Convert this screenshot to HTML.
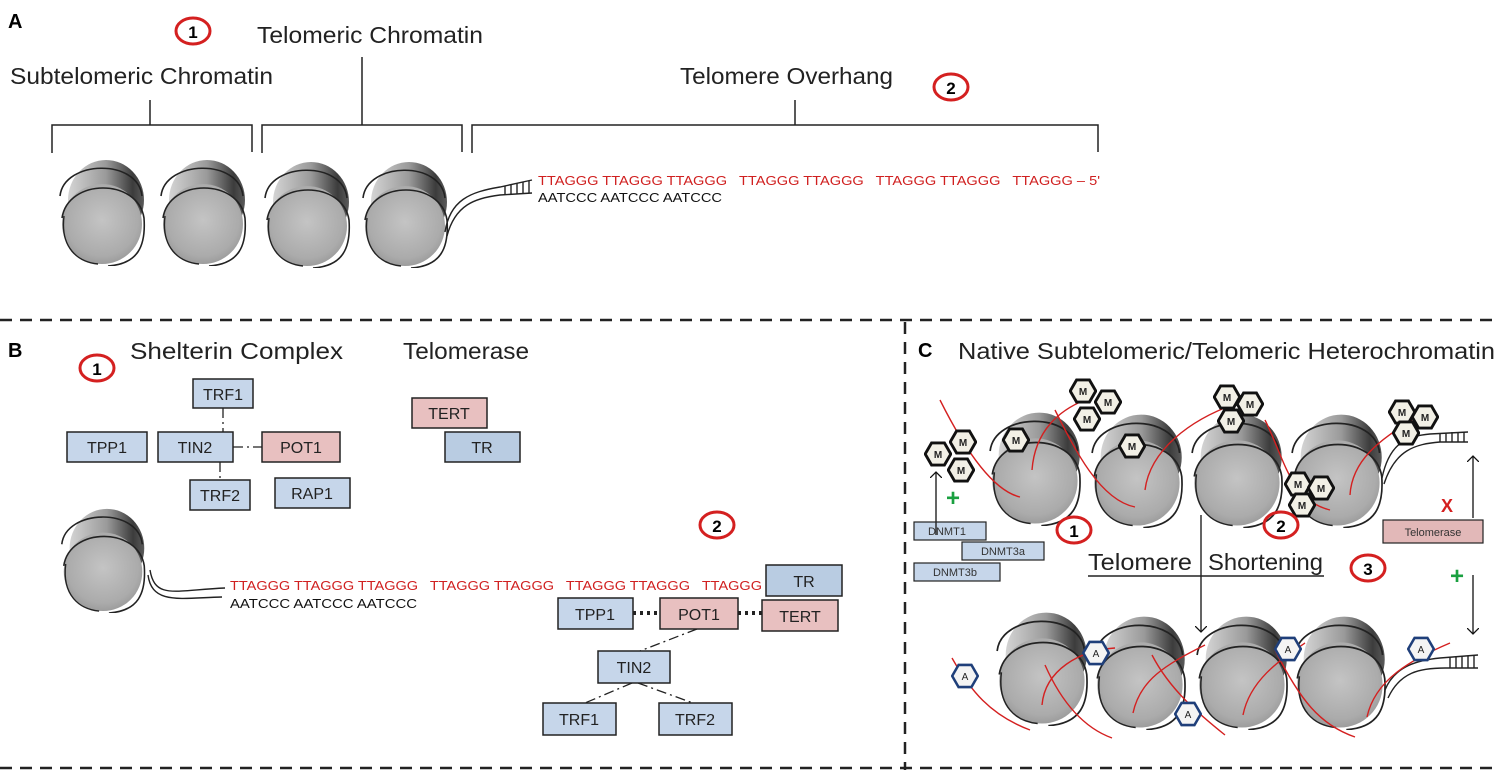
<!DOCTYPE html>
<html><head><meta charset="utf-8"><style>
html,body{margin:0;padding:0;background:#fff;}
svg{display:block;font-family:"Liberation Sans",Arial,sans-serif;}
</style></head><body>
<svg width="1500" height="779" viewBox="0 0 1500 779" xmlns="http://www.w3.org/2000/svg">
<defs>
<linearGradient id="gb" x1="0" y1="0" x2="1" y2="0">
<stop offset="0" stop-color="#d4d4d4"/><stop offset="0.5" stop-color="#9a9a9a"/><stop offset="0.85" stop-color="#3c3c3c"/><stop offset="1" stop-color="#5a5a5a"/>
</linearGradient>
<radialGradient id="gf" cx="0.5" cy="0.45" r="0.6">
<stop offset="0" stop-color="#c4c4c4"/><stop offset="0.75" stop-color="#ababab"/><stop offset="1" stop-color="#959595"/>
</radialGradient>
<symbol id="nuc" viewBox="0 0 90 110">
<ellipse cx="48" cy="44" rx="38" ry="40" fill="url(#gb)"/>
<ellipse cx="44" cy="68" rx="40" ry="40" fill="url(#gf)"/>
<path d="M2 40 C6 4 80 2 84 40" fill="none" stroke="#222" stroke-width="1.6"/>
<path d="M4 62 C10 22 80 22 86 62 C88 90 80 108 50 110" fill="none" stroke="#222" stroke-width="1.6"/>
<path d="M6 60 C2 92 20 106 40 108" fill="none" stroke="#222" stroke-width="1.4"/>
</symbol>
<symbol id="hexM" viewBox="-12 -11 24 22">
<polygon points="-11,0 -5.5,-9.5 5.5,-9.5 11,0 5.5,9.5 -5.5,9.5" fill="#f2f0e6" stroke="#111" stroke-width="2.5"/>
</symbol>
<symbol id="hexA" viewBox="-12 -11 24 22">
<polygon points="-11,0 -5.5,-9.5 5.5,-9.5 11,0 5.5,9.5 -5.5,9.5" fill="#f4f4f4" stroke="#1f3f7a" stroke-width="2.2"/>
</symbol>
<marker id="ar" markerWidth="12" markerHeight="12" refX="6" refY="6" orient="auto" markerUnits="userSpaceOnUse">
<path d="M0 0 L6 6 L0 12" fill="none" stroke="#111" stroke-width="1.3"/>
</marker>
</defs>

<!-- Panel A -->
<text x="8" y="28" font-size="20" font-weight="bold">A</text>
<text x="10" y="84" font-size="23" fill="#222" textLength="263" lengthAdjust="spacingAndGlyphs">Subtelomeric Chromatin</text>
<text x="257" y="43" font-size="23" fill="#222" textLength="226" lengthAdjust="spacingAndGlyphs">Telomeric Chromatin</text>
<text x="680" y="84" font-size="23" fill="#222" textLength="213" lengthAdjust="spacingAndGlyphs">Telomere Overhang</text>
<ellipse cx="193" cy="31" rx="17" ry="13" fill="none" stroke="#d42020" stroke-width="3"/>
<text x="193" y="38" font-size="17" font-weight="bold" text-anchor="middle">1</text>
<ellipse cx="951" cy="87" rx="17" ry="13" fill="none" stroke="#d42020" stroke-width="3"/>
<text x="951" y="94" font-size="17" font-weight="bold" text-anchor="middle">2</text>
<g fill="none" stroke="#222" stroke-width="1.5">
<path d="M52 153 V125 H252 V152 M150 125 V100"/>
<path d="M262 153 V125 H462 V152 M362 125 V57"/>
<path d="M472 153 V125 H1098 V152 M795 125 V100"/>
</g>
<use href="#nuc" x="57" y="156" width="92" height="110"/>
<use href="#nuc" x="158" y="156" width="92" height="110"/>
<use href="#nuc" x="262" y="158" width="92" height="110"/>
<use href="#nuc" x="360" y="158" width="92" height="110"/>
<g fill="none" stroke="#222" stroke-width="1.4">
<path d="M445 232 C450 200 470 192 500 187 L532 180"/>
<path d="M447 236 C455 205 475 198 500 195 L532 193"/>
<path d="M505 186 V195 M511 185 V194 M517 183 V194 M523 182 V194 M529 181 V193"/>
</g>
<text x="538" y="185" font-size="13" fill="#d02020" xml:space="preserve" textLength="562" lengthAdjust="spacingAndGlyphs">TTAGGG TTAGGG TTAGGG   TTAGGG TTAGGG   TTAGGG TTAGGG   TTAGGG – 5'</text>
<text x="538" y="202" font-size="13" fill="#111" textLength="184" lengthAdjust="spacingAndGlyphs">AATCCC AATCCC AATCCC</text>

<!-- Dashed separators -->
<g stroke="#222" stroke-width="2.5" stroke-dasharray="12 8" fill="none">
<path d="M0 320 H1500"/>
<path d="M905 322 V770"/>
<path d="M0 768 H1500"/>
</g>

<!-- Panel B -->
<text x="8" y="357" font-size="20" font-weight="bold">B</text>
<text x="130" y="359" font-size="23" fill="#222" textLength="213" lengthAdjust="spacingAndGlyphs">Shelterin Complex</text>
<text x="403" y="359" font-size="23" fill="#222" textLength="126" lengthAdjust="spacingAndGlyphs">Telomerase</text>
<ellipse cx="97" cy="368" rx="17" ry="13" fill="none" stroke="#d42020" stroke-width="3"/>
<text x="97" y="375" font-size="17" font-weight="bold" text-anchor="middle">1</text>
<g stroke="#222" stroke-width="1.3" stroke-dasharray="10 4 2 4" fill="none">
<path d="M223 408 V432"/><path d="M233 447 H262"/><path d="M220 462 V480"/>
<path d="M697 629 L640 651"/><path d="M632 683 L585 703"/><path d="M638 683 L693 703"/>
</g>
<g stroke="#222" stroke-width="4" stroke-dasharray="3 4" fill="none">
<path d="M633 613 H660"/><path d="M738 613 H762"/>
</g>
<g stroke="#222" stroke-width="1.5">
<rect x="193" y="379" width="60" height="29" fill="#c6d6ea"/>
<rect x="67" y="432" width="80" height="30" fill="#c6d6ea"/>
<rect x="158" y="432" width="75" height="30" fill="#c6d6ea"/>
<rect x="262" y="432" width="78" height="30" fill="#e8c0c0"/>
<rect x="190" y="480" width="60" height="30" fill="#c6d6ea"/>
<rect x="275" y="478" width="75" height="30" fill="#c6d6ea"/>
<rect x="412" y="398" width="75" height="30" fill="#e8c0c0"/>
<rect x="445" y="432" width="75" height="30" fill="#b9cce2"/>
<rect x="766" y="565" width="76" height="31" fill="#b9cce2"/>
<rect x="558" y="598" width="75" height="31" fill="#c6d6ea"/>
<rect x="660" y="598" width="78" height="31" fill="#e8c0c0"/>
<rect x="762" y="600" width="76" height="31" fill="#e8c0c0"/>
<rect x="598" y="651" width="72" height="32" fill="#c6d6ea"/>
<rect x="543" y="703" width="73" height="32" fill="#c6d6ea"/>
<rect x="659" y="703" width="73" height="32" fill="#c6d6ea"/>
</g>
<g font-size="16" text-anchor="middle" fill="#222">
<text x="223" y="400">TRF1</text><text x="107" y="453">TPP1</text><text x="195" y="453">TIN2</text>
<text x="301" y="453">POT1</text><text x="220" y="501">TRF2</text><text x="312" y="499">RAP1</text>
<text x="449" y="419">TERT</text><text x="482" y="453">TR</text>
<text x="804" y="587">TR</text><text x="595" y="620">TPP1</text><text x="699" y="620">POT1</text>
<text x="800" y="622">TERT</text><text x="634" y="673">TIN2</text><text x="579" y="725">TRF1</text><text x="695" y="725">TRF2</text>
</g>
<ellipse cx="717" cy="525" rx="17" ry="13" fill="none" stroke="#d42020" stroke-width="3"/>
<text x="717" y="532" font-size="17" font-weight="bold" text-anchor="middle">2</text>
<use href="#nuc" x="58" y="505" width="92" height="108"/>
<g fill="none" stroke="#222" stroke-width="1.4">
<path d="M150 570 C155 600 175 590 225 588"/>
<path d="M148 575 C152 605 180 598 222 597"/>
</g>
<text x="230" y="590" font-size="13" fill="#d02020" xml:space="preserve" textLength="532" lengthAdjust="spacingAndGlyphs">TTAGGG TTAGGG TTAGGG   TTAGGG TTAGGG   TTAGGG TTAGGG   TTAGGG</text>
<text x="230" y="608" font-size="13" fill="#111" textLength="187" lengthAdjust="spacingAndGlyphs">AATCCC AATCCC AATCCC</text>

<!-- Panel C -->
<text x="918" y="357" font-size="20" font-weight="bold">C</text>
<text x="958" y="359" font-size="23" fill="#222" textLength="537" lengthAdjust="spacingAndGlyphs">Native Subtelomeric/Telomeric Heterochromatin</text>
<use href="#nuc" x="988" y="408" width="96" height="118"/>
<use href="#nuc" x="1090" y="410" width="96" height="118"/>
<use href="#nuc" x="1190" y="410" width="96" height="118"/>
<use href="#nuc" x="1290" y="410" width="96" height="118"/>
<g fill="none" stroke="#222" stroke-width="1.4">
<path d="M1382 478 C1390 440 1410 436 1430 434 L1468 432"/>
<path d="M1384 484 C1395 450 1415 444 1440 442 L1468 442"/>
<path d="M1440 433 V442 M1446 433 V442 M1452 432 V442 M1458 432 V442 M1464 432 V442"/>
</g>
<use href="#nuc" x="995" y="608" width="96" height="118"/>
<use href="#nuc" x="1093" y="612" width="96" height="118"/>
<use href="#nuc" x="1195" y="612" width="96" height="118"/>
<use href="#nuc" x="1293" y="612" width="96" height="118"/>
<g fill="none" stroke="#222" stroke-width="1.4">
<path d="M1385 690 C1395 665 1420 660 1440 658 L1478 655"/>
<path d="M1388 698 C1400 672 1420 668 1445 668 L1478 668"/>
<path d="M1450 657 V668 M1456 657 V668 M1462 656 V668 M1468 656 V668 M1474 655 V668"/>
</g>
<g fill="none" stroke="#d42020" stroke-width="1.4">
<path d="M940 400 C960 440 990 490 1020 497"/>
<path d="M1032 470 C1035 430 1060 410 1085 400"/>
<path d="M1055 410 C1075 450 1100 500 1135 507"/>
<path d="M1145 490 C1150 450 1190 420 1235 404"/>
<path d="M1265 420 C1285 460 1290 500 1330 510"/>
<path d="M1350 495 C1352 460 1380 440 1412 420"/>
<path d="M952 658 C970 690 990 715 1030 730"/>
<path d="M1042 705 C1045 670 1080 650 1115 648"/>
<path d="M1045 665 C1065 710 1090 730 1112 738"/>
<path d="M1133 713 C1140 680 1165 665 1205 645"/>
<path d="M1152 655 C1170 690 1200 715 1225 735"/>
<path d="M1243 715 C1250 680 1280 660 1305 643"/>
<path d="M1275 650 C1300 700 1320 725 1355 737"/>
<path d="M1367 717 C1375 680 1410 660 1450 643"/>
</g>
<g>
<use href="#hexM" x="924" y="441" width="28" height="26"/><use href="#hexM" x="949" y="429" width="28" height="26"/><use href="#hexM" x="947" y="457" width="28" height="26"/>
<use href="#hexM" x="1002" y="427" width="28" height="26"/>
<use href="#hexM" x="1069" y="378" width="28" height="26"/><use href="#hexM" x="1094" y="389" width="28" height="26"/><use href="#hexM" x="1073" y="406" width="28" height="26"/>
<use href="#hexM" x="1118" y="433" width="28" height="26"/>
<use href="#hexM" x="1213" y="384" width="28" height="26"/><use href="#hexM" x="1236" y="391" width="28" height="26"/><use href="#hexM" x="1217" y="408" width="28" height="26"/>
<use href="#hexM" x="1284" y="471" width="28" height="26"/><use href="#hexM" x="1307" y="475" width="28" height="26"/><use href="#hexM" x="1288" y="492" width="28" height="26"/>
<use href="#hexM" x="1388" y="399" width="28" height="26"/><use href="#hexM" x="1411" y="404" width="28" height="26"/><use href="#hexM" x="1392" y="420" width="28" height="26"/>
<use href="#hexA" x="951" y="663" width="28" height="26"/><use href="#hexA" x="1082" y="640" width="28" height="26"/>
<use href="#hexA" x="1174" y="701" width="28" height="26"/><use href="#hexA" x="1274" y="636" width="28" height="26"/><use href="#hexA" x="1407" y="636" width="28" height="26"/>
</g>
<g font-size="10" font-weight="bold" text-anchor="middle" fill="#222">
<text x="938" y="458">M</text><text x="963" y="446">M</text><text x="961" y="474">M</text>
<text x="1016" y="444">M</text>
<text x="1083" y="395">M</text><text x="1108" y="406">M</text><text x="1087" y="423">M</text>
<text x="1132" y="450">M</text>
<text x="1227" y="401">M</text><text x="1250" y="408">M</text><text x="1231" y="425">M</text>
<text x="1298" y="488">M</text><text x="1321" y="492">M</text><text x="1302" y="509">M</text>
<text x="1402" y="416">M</text><text x="1425" y="421">M</text><text x="1406" y="437">M</text>
</g>
<g font-size="10" text-anchor="middle" fill="#222">
<text x="965" y="680">A</text><text x="1096" y="657">A</text><text x="1188" y="718">A</text><text x="1288" y="653">A</text><text x="1421" y="653">A</text>
</g>
<g stroke="#222" stroke-width="1.2">
<rect x="914" y="522" width="72" height="18" fill="#c6d6ea"/>
<rect x="962" y="542" width="82" height="18" fill="#c6d6ea"/>
<rect x="914" y="563" width="86" height="18" fill="#c6d6ea"/>
<rect x="1383" y="520" width="100" height="23" fill="#e2b8b8"/>
</g>
<g font-size="11" text-anchor="middle" fill="#333">
<text x="947" y="535">DNMT1</text><text x="1003" y="555">DNMT3a</text><text x="955" y="576">DNMT3b</text>
<text x="1433" y="536">Telomerase</text>
</g>
<ellipse cx="1074" cy="530" rx="17" ry="13" fill="none" stroke="#d42020" stroke-width="3"/>
<text x="1074" y="537" font-size="17" font-weight="bold" text-anchor="middle">1</text>
<ellipse cx="1281" cy="525" rx="17" ry="13" fill="none" stroke="#d42020" stroke-width="3"/>
<text x="1281" y="532" font-size="17" font-weight="bold" text-anchor="middle">2</text>
<ellipse cx="1368" cy="568" rx="17" ry="13" fill="none" stroke="#d42020" stroke-width="3"/>
<text x="1368" y="575" font-size="17" font-weight="bold" text-anchor="middle">3</text>
<text x="1088" y="570" font-size="23" fill="#222" textLength="104" lengthAdjust="spacingAndGlyphs">Telomere</text>
<text x="1208" y="570" font-size="23" fill="#222" textLength="115" lengthAdjust="spacingAndGlyphs">Shortening</text>
<g stroke="#222" stroke-width="1.4" fill="none">
<path d="M1088 576 H1324"/>
<path d="M1201 515 V632" marker-end="url(#ar)"/>
<path d="M936 535 V472" marker-end="url(#ar)"/>
<path d="M1473 518 V456" marker-end="url(#ar)"/>
<path d="M1473 575 V634" marker-end="url(#ar)"/>
</g>
<text x="1447" y="512" font-size="18" font-weight="bold" fill="#d42020" text-anchor="middle">X</text>
<text x="953" y="506" font-size="24" font-weight="bold" fill="#1aa040" text-anchor="middle">+</text>
<text x="1457" y="584" font-size="24" font-weight="bold" fill="#1aa040" text-anchor="middle">+</text>
</svg>
</body></html>
